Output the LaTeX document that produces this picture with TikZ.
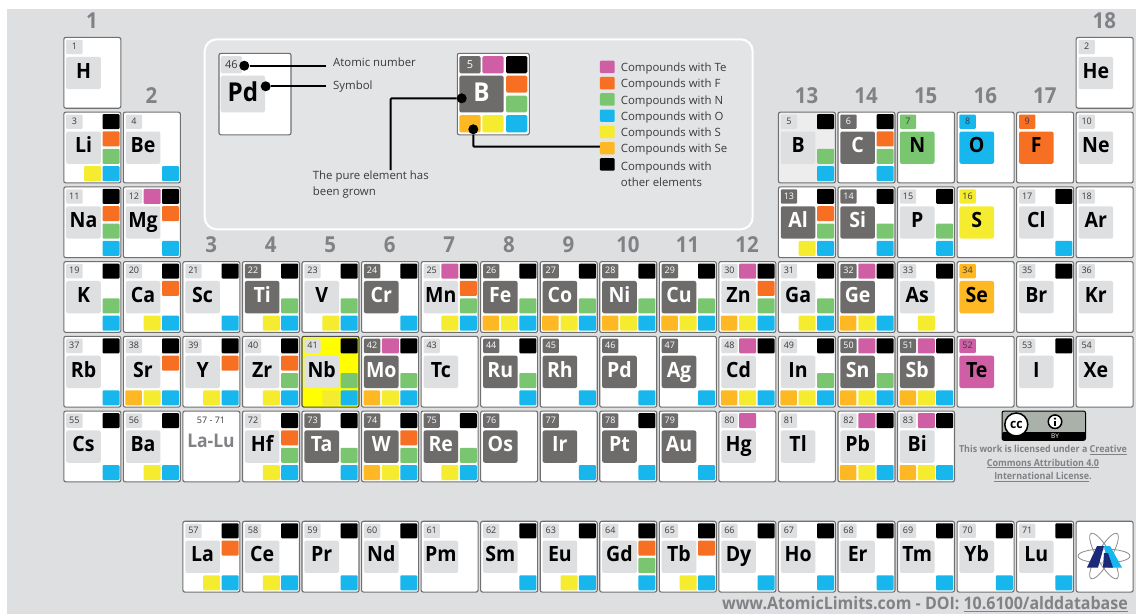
\documentclass[tikz,border=0pt]{standalone}
\usepackage{fontspec}
\usepackage{xcolor}
\setmainfont{Open Sans}[BoldFeatures={FakeStretch=0.93}]
\definecolor{pagebg}{HTML}{DEDFE1}
\definecolor{panelbg}{HTML}{E3E4E6}
\definecolor{boxgray}{HTML}{DEDFE1}
\definecolor{darkgrown}{HTML}{6E6B6B}
\definecolor{edgegray}{HTML}{707070}
\definecolor{headgray}{HTML}{808285}
\definecolor{labeltext}{HTML}{3A3A3C}
\definecolor{cTe}{HTML}{CF5EA4}
\definecolor{cF}{HTML}{F76F22}
\definecolor{cN}{HTML}{79C570}
\definecolor{cO}{HTML}{17B6EC}
\definecolor{cS}{HTML}{F5EC30}
\definecolor{cSe}{HTML}{FDB823}
\definecolor{nbyellow}{HTML}{FFFF00}
\definecolor{logonavy}{HTML}{1B2A78}
\definecolor{badgegray}{HTML}{AAB1AA}
\tikzset{
  cell/.style={draw=edgegray,line width=1.1pt,rounded corners=2pt,fill=white,anchor=north west,
    minimum width=57pt,minimum height=70.8pt,inner sep=0pt,outer sep=0pt},
  cell nb/.style={fill=nbyellow,draw=black!70},
  cell bor/.style={fill=black!7},
  numbox/.style={fill=boxgray,rounded corners=1pt,anchor=north west,minimum width=16.3pt,
    text height=10pt,text depth=4.3pt,inner sep=0pt,outer sep=0pt,text=labeltext,font=\fontsize{9}{10}\selectfont},
  symbox/.style={fill=boxgray,rounded corners=2pt,anchor=north west,minimum width=34.6pt,
    text height=21.3pt,text depth=11pt,inner sep=0pt,outer sep=0pt,font=\fontsize{21}{22}\selectfont\bfseries},
  tone dark/.style={fill=darkgrown,text=white},
  tone nit/.style={fill=cN},
  tone oxy/.style={fill=cO},
  tone flu/.style={fill=cF},
  tone sul/.style={fill=cS},
  tone sel/.style={fill=cSe},
  tone tel/.style={fill=cTe},
  sq/.style={rounded corners=1pt,anchor=north west,minimum width=17pt,minimum height=15pt,inner sep=0pt,outer sep=0pt},
  sq t/.style={fill=cTe,xshift=20.3pt,yshift=-2pt},
  sq k/.style={fill=black,xshift=38.7pt,yshift=-2pt},
  sq f/.style={fill=cF,xshift=38.7pt,yshift=-19.3pt},
  sq n/.style={fill=cN,xshift=38.7pt,yshift=-36.7pt},
  sq o/.style={fill=cO,xshift=38.7pt,yshift=-54pt},
  sq s/.style={fill=cS,xshift=20.3pt,yshift=-54pt},
  sq e/.style={fill=cSe,xshift=2pt,yshift=-54pt,minimum width=16.5pt},
  grouphead/.style={text=headgray,font=\fontsize{22}{24}\selectfont\bfseries,inner sep=0pt},
  legsq/.style={rounded corners=1pt,minimum width=14.7pt,minimum height=12.4pt,inner sep=0pt,outer sep=0pt},
  legtext/.style={anchor=west,inner sep=0pt,text=labeltext,font=\fontsize{11.4}{16.3}\selectfont,align=left},
  dot/.style={circle,fill=black,minimum size=10pt,inner sep=0pt},
  leader/.style={draw=black,line width=2pt,rounded corners=1pt},
  keybox/.style={rounded corners=1.5pt,inner sep=0pt,outer sep=0pt,anchor=north west},
  licence/.style={text=headgray,font=\fontsize{9.6}{13.4}\selectfont\bfseries,align=center,inner sep=0pt},
  orbit/.style={draw=black!45,line width=0.8pt}
}
\begin{document}
\begin{tikzpicture}[x=1pt,y=-1pt]
  \useasboundingbox (0,0) rectangle (1136,614);
  \fill[white] (0,0) rectangle (1136,614);
  \fill[pagebg] (7,9) rectangle (1136,614);

  % group numbers
  \foreach \col/\ypos in {1/21, 2/96, 3/245, 4/245, 5/245, 6/245, 7/245, 8/245, 9/245, 10/245, 11/245, 12/245, 13/96, 14/96, 15/96, 16/96, 17/96, 18/21}
    \node[grouphead] (head\col) at ({92+59.55*(\col-1)},\ypos) {\col};

  % legend panel
  \node[draw=white,line width=2pt,rounded corners=12pt,fill=panelbg,anchor=north west,minimum width=548pt,minimum height=190pt,inner sep=0pt,outer sep=0pt] (panel) at (204.7,39.3) {};

  \node[cell,minimum width=72pt,minimum height=81.5pt] (keypd) at (219,53.3) {};
  \node[keybox,fill=boxgray,minimum width=21.3pt,text height=12pt,text depth=5.3pt,text=labeltext,font=\fontsize{11}{12}\selectfont] (keynum) at (220.7,56) {46};
  \node[keybox,fill=boxgray,minimum width=44.3pt,text height=25.8pt,text depth=10.8pt,font=\fontsize{26}{28}\selectfont\bfseries] (keysym) at (220.7,75.7) {Pd};
  \node[dot] (dotnum) at (244.3,65.7) {};
  \node[dot] (dotsym) at (265.7,86.3) {};
  \coordinate (numend) at (326,65.7);
  \coordinate (symend) at (326,86.3);
  \draw[leader] (dotnum) -- (numend);
  \draw[leader] (dotsym) -- (symend);
  \node[legtext] (lblnum) at (333,62) {Atomic number};
  \node[legtext] (lblsym) at (333,87) {Symbol};

  \node[cell,minimum width=72pt,minimum height=81.5pt] (keyb) at (457.3,53.3) {};
  \node[keybox,fill=darkgrown,minimum width=21.4pt,text height=12pt,text depth=5.3pt,text=white,font=\fontsize{11}{12}\selectfont] (keybnum) at (459.3,56) {5};
  \node[keybox,fill=cTe,minimum width=21.4pt,minimum height=17.3pt] (keyt) at (482.3,56) {};
  \node[keybox,fill=black,minimum width=21.3pt,minimum height=17.3pt] (keyk) at (506,56) {};
  \node[keybox,fill=darkgrown,minimum width=44.4pt,text height=26pt,text depth=10.6pt,text=white,font=\fontsize{26}{28}\selectfont\bfseries] (keybsym) at (459.3,75.7) {B};
  \node[keybox,fill=cF,minimum width=21.3pt,minimum height=17pt] (keyf) at (506,75.7) {};
  \node[keybox,fill=cN,minimum width=21.3pt,minimum height=16.6pt] (keyn) at (506,95.7) {};
  \node[keybox,fill=cSe,minimum width=21.4pt,minimum height=17.3pt] (keye) at (459.3,115) {};
  \node[keybox,fill=cS,minimum width=21.4pt,minimum height=17.3pt] (keys) at (482.3,115) {};
  \node[keybox,fill=cO,minimum width=21.3pt,minimum height=17.3pt] (keyo) at (506,115) {};
  \node[dot] (dotpure) at (461.7,98.3) {};
  \node[dot] (dotse) at (473.3,129.3) {};
  \coordinate (pureend) at (390.7,170);
  \coordinate (seend) at (600,146.7);
  \draw[leader] (dotpure) -| (pureend);
  \draw[leader] (dotse) |- (seend);
  \node[legtext] (lblpure) at (312.7,184.5) {The pure element has\\been grown};

  \foreach \i/\clr/\txt in {0/cTe/Te, 1/cF/F, 2/cN/N, 3/cO/O, 4/cS/S, 5/cSe/Se}{
    \node[legsq,fill=\clr] (leg\txt) at (607.3,{66.9+16.27*\i}) {};
    \node[legtext] (lbl\txt) at (620.7,{68.6+16.27*\i}) {Compounds with \txt};
  }
  \node[legsq,fill=black] (legother) at (607.3,164.4) {};
  \node[legtext] (lblother) at (620.7,174) {Compounds with\\other elements};

  % all the elements
  \foreach \col/\row/\num/\sym/\tone/\comps in {
    1/1/1/H/plain/{}, 18/1/2/He/plain/{},
    1/2/3/Li/plain/{k,f,n,s,o}, 2/2/4/Be/plain/{o},
    13/2/5/B/bor/{k,n,o}, 14/2/6/C/dark/{k,f,n,o}, 15/2/7/N/nit/{}, 16/2/8/O/oxy/{}, 17/2/9/F/flu/{}, 18/2/10/Ne/plain/{},
    1/3/11/Na/plain/{k,f,n,o}, 2/3/12/Mg/plain/{t,k,f,o},
    13/3/13/Al/dark/{k,f,n,s,o}, 14/3/14/Si/dark/{k,n,o}, 15/3/15/P/plain/{k,n,o}, 16/3/16/S/sul/{}, 17/3/17/Cl/plain/{k,o}, 18/3/18/Ar/plain/{},
    1/4/19/K/plain/{k,n,o}, 2/4/20/Ca/plain/{k,f,s,o}, 3/4/21/Sc/plain/{k,o}, 4/4/22/Ti/dark/{k,n,s,o}, 5/4/23/V/plain/{k,n,s,o}, 6/4/24/Cr/dark/{k,o},
    7/4/25/Mn/plain/{t,k,f,n,s,o}, 8/4/26/Fe/dark/{k,n,e,s,o}, 9/4/27/Co/dark/{k,n,e,s,o}, 10/4/28/Ni/dark/{k,n,e,s,o}, 11/4/29/Cu/dark/{k,n,e,s,o}, 12/4/30/Zn/plain/{t,k,f,n,e,s,o},
    13/4/31/Ga/plain/{k,n,s,o}, 14/4/32/Ge/dark/{t,k,e,s,o}, 15/4/33/As/plain/{k,s}, 16/4/34/Se/sel/{}, 17/4/35/Br/plain/{k}, 18/4/36/Kr/plain/{},
    1/5/37/Rb/plain/{k,o}, 2/5/38/Sr/plain/{k,f,e,s,o}, 3/5/39/Y/plain/{k,f,s,o}, 4/5/40/Zr/plain/{k,f,n,s,o}, 5/5/41/Nb/nb/{k,n,s,o}, 6/5/42/Mo/dark/{t,k,n,e,s,o},
    7/5/43/Tc/plain/{}, 8/5/44/Ru/dark/{k,n,o}, 9/5/45/Rh/dark/{o}, 10/5/46/Pd/dark/{o}, 11/5/47/Ag/dark/{o}, 12/5/48/Cd/plain/{t,k,e,s,o},
    13/5/49/In/plain/{k,n,e,s,o}, 14/5/50/Sn/dark/{t,k,n,e,s,o}, 15/5/51/Sb/dark/{t,k,e,s,o}, 16/5/52/Te/tel/{}, 17/5/53/I/plain/{k}, 18/5/54/Xe/plain/{},
    1/6/55/Cs/plain/{k,o}, 2/6/56/Ba/plain/{k,s,o}, 4/6/72/Hf/plain/{k,f,n,s,o}, 5/6/73/Ta/dark/{k,n,o}, 6/6/74/W/dark/{k,f,n,e,s,o}, 7/6/75/Re/dark/{k,n,s,o},
    8/6/76/Os/dark/{}, 9/6/77/Ir/dark/{o}, 10/6/78/Pt/dark/{k,o}, 11/6/79/Au/dark/{o}, 12/6/80/Hg/plain/{t},
    13/6/81/Tl/plain/{}, 14/6/82/Pb/plain/{t,k,e,s,o}, 15/6/83/Bi/plain/{t,k,e,s,o},
    3/7.475/57/La/plain/{k,f,s,o}, 4/7.475/58/Ce/plain/{k,s,o}, 5/7.475/59/Pr/plain/{k,o}, 6/7.475/60/Nd/plain/{k,o}, 7/7.475/61/Pm/plain/{}, 8/7.475/62/Sm/plain/{k,o},
    9/7.475/63/Eu/plain/{k,s,o}, 10/7.475/64/Gd/plain/{k,f,n,o}, 11/7.475/65/Tb/plain/{k,f,s,o}, 12/7.475/66/Dy/plain/{k,o}, 13/7.475/67/Ho/plain/{k,o},
    14/7.475/68/Er/plain/{k,o}, 15/7.475/69/Tm/plain/{k,o}, 16/7.475/70/Yb/plain/{k,o}, 17/7.475/71/Lu/plain/{k,o}}{
    \node[cell,cell \tone/.try] (cell\num) at ({63.8+59.55*(\col-1)},{37.4+74.73*(\row-1)}) {};
    \foreach \q in \comps
      \node[sq,sq \q] (\num\q) at (cell\num.north west) {};
    \node[numbox,tone \tone/.try,xshift=2.4pt,yshift=-2.4pt] (num\num) at (cell\num.north west) {\num};
    \node[symbox,tone \tone/.try,xshift=2.4pt,yshift=-19.4pt] (sym\num) at (cell\num.north west) {\sym};
  }

  % lanthanide placeholder
  \node[cell] (cellLaLu) at ({63.8+59.55*2},{37.4+74.73*5}) {};
  \node[text=labeltext,inner sep=0pt,font=\fontsize{9}{10}\selectfont] (numLaLu) at (211,420) {57 - 71};
  \node[text=headgray,inner sep=0pt,font=\fontsize{18.8}{20}\selectfont\bfseries] (symLaLu) at (211,441) {La-Lu};

  % logo cell
  \node[cell] (celllogo) at ({63.8+59.55*17},{37.4+74.73*6.475}) {};
  \foreach \ang in {0,60,120}
    \draw[orbit,rotate around={\ang:(1104,556)}] (1104,556) ellipse (26 and 7);
  \fill[logonavy] (1087,567.5) -- (1097,546) -- (1104,546) -- (1098,567.5) -- cycle;
  \fill[cO] (1104,546) -- (1110,546) -- (1122,567.5) -- (1108,567.5) -- cycle;
  \fill[logonavy] (1104,553) -- (1108,553) -- (1113,567.5) -- (1103,567.5) -- cycle;

  % licence badge
  \node[draw=black,line width=1pt,rounded corners=2pt,fill=badgegray,anchor=north west,minimum width=83.5pt,minimum height=29.3pt,inner sep=0pt,outer sep=0pt] (badge) at (1002,411) {};
  \fill[black] (1002,432) -- (1085.5,432) -- (1085.5,438.3) [rounded corners=2pt] -- (1085.5,440.3) -- (1002,440.3) -- cycle;
  \node[circle,draw=black,line width=1.5pt,fill=white,minimum size=23pt,inner sep=0pt,text=black,font=\fontsize{13}{13}\selectfont\bfseries] (ccmark) at (1016.3,424.5) {cc};
  \node[circle,draw=black,line width=1.5pt,fill=white,minimum size=13.5pt,inner sep=0pt] (byring) at (1055,421.7) {};
  \fill[black] (1055,418.6) circle (1.3);
  \fill[black] (1053.6,420.6) rectangle (1056.4,426);
  \node[text=white,inner sep=0pt,font=\fontsize{6.5}{7}\selectfont] (bytext) at (1055,436.2) {BY};
  \node[licence] (licencetext) at (1043,463.4) {This work is licensed under a \underline{Creative}\\\underline{Commons Attribution 4.0}\\\underline{International License}.};

  \node[anchor=east,inner sep=0pt,text=headgray,font=\fontsize{17.2}{19}\selectfont\bfseries] (doitext) at (1128,604) {www.AtomicLimits.com - DOI: \underline{10.6100/alddatabase}};
\end{tikzpicture}
\end{document}
